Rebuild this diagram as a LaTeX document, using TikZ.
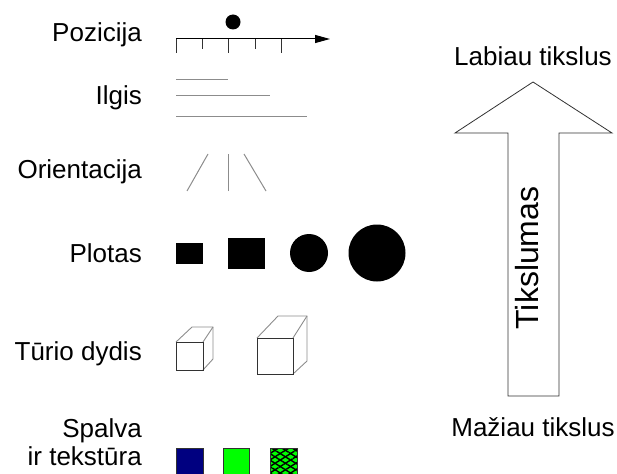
\documentclass[tikz,border=0pt]{standalone}
\usepackage{fontspec}
\setmainfont{Liberation Sans}
\usepackage{tikz}
\definecolor{navyblue}{RGB}{0, 0, 128}
\definecolor{brightgreen}{RGB}{0, 255, 0}
\definecolor{linegray}{RGB}{140, 140, 140}
\definecolor{edgedark}{RGB}{50, 50, 50}
\usetikzlibrary{arrows.meta, patterns.meta}

\begin{document}
\begin{tikzpicture}[x=1pt, y=-1pt,
        rowlabel/.style={anchor=base east, inner sep=0pt, font=\fontsize{26}{28}\selectfont},
        sidelabel/.style={anchor=base, inner sep=0pt, font=\fontsize{26}{28}\selectfont},
        thinline/.style={draw=linegray, line width=1pt},
        frontedge/.style={draw=edgedark, line width=0.9pt},
        backedge/.style={draw=linegray, line width=0.9pt},
        swatch/.style={draw=edgedark, line width=0.8pt}]
    \useasboundingbox (0,0) rectangle (617,473);

    % row labels
    \node[rowlabel] (pozicija) at (142,42) {Pozicija};
    \node[rowlabel] (ilgis) at (142,105) {Ilgis};
    \node[rowlabel] (orientacija) at (142,178) {Orientacija};
    \node[rowlabel] (plotas) at (142,262) {Plotas};
    \node[rowlabel] (turis) at (142,360) {Tūrio dydis};
    \node[rowlabel] (spalva) at (142,437) {Spalva};
    \node[rowlabel] (tekstura) at (142,465) {ir tekstūra};

    % position: axis with ticks and a dot
    \coordinate (ax0) at (176,39);
    \coordinate (ax1) at (330,39);
    \draw[line width=1pt, -{Triangle[length=15pt, width=8pt]}] (ax0) -- (ax1);
    \foreach \x/\len in {176/14, 202/10, 228/14, 255/10, 281/14}
        \draw[edgedark, line width=1pt] (\x,39) -- ++(0,\len);
    \fill (233,22) circle (7.5);

    % length
    \foreach \y/\x in {80/228, 96/270, 117/307}
        \draw[thinline] (176,\y) -- (\x,\y);

    % orientation
    \draw[thinline] (187,191) -- (208,154);
    \draw[thinline] (228,191) -- (228,154);
    \draw[thinline] (266,191) -- (244,154);

    % area
    \fill (176,243) rectangle (203,264);
    \fill (228,238) rectangle (265,269);
    \fill (309,253) circle (19);
    \fill (377,253) circle (28.5);

    % volume: two cubes in perspective
    \draw[backedge] (176,342) -- (192,327) -- (213,327) -- (213,359) -- (203,370);
    \draw[backedge] (203,342) -- (213,327);
    \draw[frontedge] (176,342) rectangle (203,370);
    \draw[backedge] (257,338) -- (278,316) -- (307,316) -- (307,361) -- (293,374);
    \draw[backedge] (293,338) -- (307,316);
    \draw[frontedge] (257,338) rectangle (293,374);

    % colour and texture
    \draw[swatch, fill=navyblue] (176,448) rectangle (203,478);
    \draw[swatch, fill=brightgreen] (223,448) rectangle (249,478);
    \fill[brightgreen] (270,448) rectangle (297,478);
    \fill[pattern={Lines[angle=32, distance=5.5pt, line width=1.4pt]}] (270,448) rectangle (297,478);
    \fill[pattern={Lines[angle=-32, distance=5.5pt, line width=1.4pt]}] (270,448) rectangle (297,478);
    \draw[swatch] (270,448) rectangle (297,478);

    % accuracy arrow
    \draw[draw=edgedark, line width=0.8pt, fill=white]
        (533,82) -- (612,133) -- (559,133) -- (559,396) -- (508,396) -- (508,133) -- (455,133) -- cycle;
    \node[sidelabel] (labiau) at (533,66) {Labiau tikslus};
    \node[sidelabel] (maziau) at (533,436) {Mažiau tikslus};
    \node[anchor=base, rotate=90, inner sep=0pt, font=\fontsize{32}{34}\selectfont] (tikslumas) at (538,258) {Tikslumas};
\end{tikzpicture}
\end{document}
